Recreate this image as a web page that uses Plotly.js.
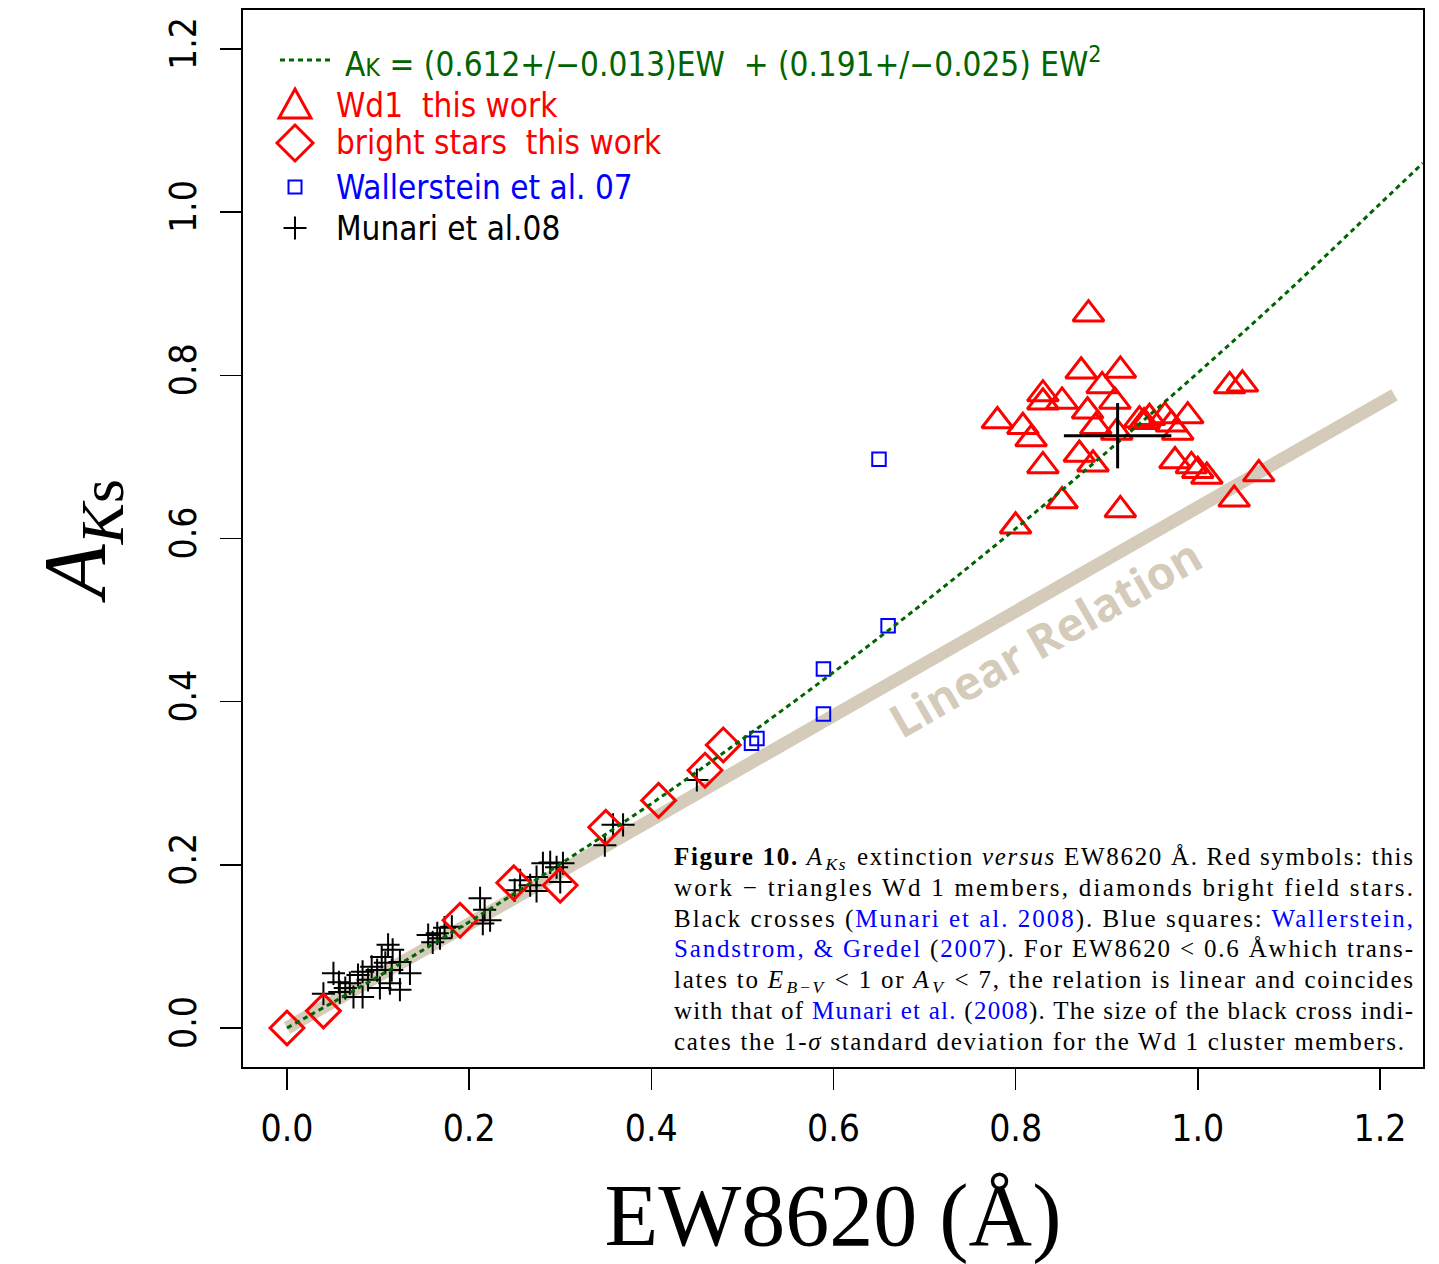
<!DOCTYPE html>
<html>
<head>
<meta charset="utf-8">
<script src="https://cdn.plot.ly/plotly-3.0.1.min.js"></script>
<style>
  html, body { margin: 0; padding: 0; background: #ffffff; }
  #chart { width: 1439px; height: 1264px; }
</style>
</head>
<body>
<div id="chart"></div>
<script>
// ---- Data ----
// Wd 1 members (this work) - red triangles
const wd1X = [0.880, 0.872, 0.915, 0.830, 0.830, 0.851, 0.895, 0.909, 0.879, 0.780, 0.808, 0.817, 0.888, 0.911, 0.936, 0.941, 0.947, 0.964, 0.971, 0.989, 0.978, 0.830, 0.870, 0.885, 0.975, 0.993, 1.000, 1.010, 1.035, 1.049, 1.067, 1.040, 0.851, 0.915, 0.800];
const wd1Y = [0.875, 0.805, 0.806, 0.777, 0.767, 0.768, 0.787, 0.768, 0.756, 0.744, 0.737, 0.722, 0.737, 0.730, 0.745, 0.743, 0.748, 0.750, 0.740, 0.750, 0.730, 0.689, 0.703, 0.691, 0.695, 0.689, 0.683, 0.676, 0.787, 0.789, 0.679, 0.648, 0.646, 0.635, 0.615];

// Bright field stars (this work) - red diamonds
const brightX = [0.000, 0.040, 0.190, 0.249, 0.300, 0.350, 0.408, 0.459, 0.479];
const brightY = [0.000, 0.021, 0.132, 0.178, 0.175, 0.246, 0.279, 0.316, 0.347];

// Wallerstein et al. 07 - blue squares
const wallX = [0.650, 0.660, 0.589, 0.589, 0.510, 0.516];
const wallY = [0.697, 0.493, 0.440, 0.385, 0.349, 0.355];

// Munari et al. 08 - black crosses
const munX = [0.040, 0.051, 0.057, 0.058, 0.064, 0.069, 0.073, 0.078, 0.083, 0.083, 0.089, 0.093, 0.099, 0.102, 0.104, 0.111, 0.108, 0.116, 0.115, 0.124, 0.135, 0.113, 0.124, 0.155, 0.160, 0.168, 0.181, 0.165, 0.173, 0.212, 0.217, 0.223, 0.215, 0.250, 0.256, 0.267, 0.274, 0.281, 0.289, 0.296, 0.300, 0.274, 0.303, 0.349, 0.358, 0.369, 0.450];
const munY = [0.042, 0.067, 0.056, 0.044, 0.049, 0.055, 0.038, 0.065, 0.038, 0.069, 0.059, 0.075, 0.071, 0.049, 0.087, 0.102, 0.080, 0.096, 0.071, 0.081, 0.067, 0.055, 0.047, 0.114, 0.105, 0.110, 0.124, 0.116, 0.123, 0.159, 0.145, 0.132, 0.128, 0.169, 0.181, 0.175, 0.185, 0.202, 0.203, 0.197, 0.179, 0.168, 0.202, 0.224, 0.249, 0.249, 0.304];

// Mean and 1-sigma of Wd 1 members (big black cross)
const meanX = [0.912];
const meanY = [0.726];
const sdX = [0.059];
const sdY = [0.040];

// Quadratic fit curve
const fitX = [0.0, 0.1, 0.2, 0.3, 0.4, 0.5, 0.6, 0.7, 0.8, 0.9, 1.0, 1.1, 1.2, 1.247];
const fitY = [0.000, 0.063, 0.130, 0.201, 0.275, 0.354, 0.436, 0.522, 0.612, 0.706, 0.803, 0.904, 1.010, 1.060];

// Linear relation (thick band)
const linX = [0.0, 1.216];
const linY = [0.0, 0.776];

// Tick values / labels
const tickVals = [0.0, 0.2, 0.4, 0.6, 0.8, 1.0, 1.2];
const tickText = ['0.0', '0.2', '0.4', '0.6', '0.8', '1.0', '1.2'];

// ---- Styles ----
const TAN = '#d5cbba';
const RED = '#ff0000';
const BLUE = '#0000ff';
const GREEN = '#006400';
const NARROW = '"Liberation Sans Narrow", "DejaVu Sans Condensed", "Arial Narrow", sans-serif';
const SERIF = '"Liberation Serif", "DejaVu Serif", serif';

const data = [
  { x: linX, y: linY, type: 'scatter', mode: 'lines', name: 'Linear Relation',
    line: { color: TAN, width: 13 }, hoverinfo: 'skip', showlegend: false },
  { x: munX, y: munY, type: 'scatter', mode: 'markers', name: 'Munari et al.08',
    marker: { symbol: 'cross-thin-open', size: 16.5, color: '#000000', line: { color: '#000000', width: 2 } }, showlegend: false },
  { x: wallX, y: wallY, type: 'scatter', mode: 'markers', name: 'Wallerstein et al. 07',
    marker: { symbol: 'square-open', size: 13.5, color: BLUE, line: { color: BLUE, width: 2 } }, showlegend: false },
  { x: brightX, y: brightY, type: 'scatter', mode: 'markers', name: 'bright stars this work',
    marker: { symbol: 'diamond-open', size: 26, color: RED, line: { color: RED, width: 3 } }, showlegend: false },
  { x: wd1X, y: wd1Y, type: 'scatter', mode: 'markers', name: 'Wd1 this work',
    marker: { symbol: 'triangle-up-open', size: 27, color: RED, line: { color: RED, width: 3 } }, showlegend: false },
  { x: fitX, y: fitY, type: 'scatter', mode: 'lines', name: 'fit',
    line: { color: GREEN, width: 3, dash: '5px,4px', shape: 'spline' }, hoverinfo: 'skip', showlegend: false },
  { x: meanX, y: meanY, type: 'scatter', mode: 'markers', name: 'Wd 1 mean',
    marker: { size: 1, color: '#000000', opacity: 0 },
    error_x: { type: 'data', array: sdX, visible: true, color: '#000000', thickness: 3, width: 0 },
    error_y: { type: 'data', array: sdY, visible: true, color: '#000000', thickness: 3, width: 0 },
    showlegend: false }
];

// paper coordinate helpers for the fixed-size figure (plot area 243..1423 x 10..1067)
const L = 243, R = 1423, T = 10, B = 1067;
const px = v => (v - L) / (R - L);
const py = v => (B - v) / (B - T);

const legendItems = [
  { text: 'A<span style="font-size:25px">K</span> = (0.612+/\u22120.013)EW  + (0.191+/\u22120.025) EW<sup>2</sup>', color: GREEN, x: 343, y: 62 },
  { text: 'Wd1  this work', color: RED, x: 334, y: 105 },
  { text: 'bright stars  this work', color: RED, x: 334, y: 143 },
  { text: 'Wallerstein et al. 07', color: BLUE, x: 334, y: 187 },
  { text: 'Munari et al.08', color: '#000000', x: 334, y: 228 }
];

const blue = s => '<span style="color:#0000ff">' + s + '</span>';
const captionLines = [
  '<b>Figure 10.</b> <i>A</i><sub><i>Ks</i></sub> extinction <i>versus</i> EW8620 \u00c5. Red symbols: this',
  'work \u2212 triangles Wd 1 members, diamonds bright field stars.',
  'Black crosses (' + blue('Munari et al. 2008') + '). Blue squares: ' + blue('Wallerstein,'),
  blue('Sandstrom, &amp; Gredel') + ' (' + blue('2007') + '). For EW8620 &lt; 0.6 \u00c5which trans-',
  'lates to <i>E</i><sub><i>B\u2212V</i></sub> &lt; 1 or <i>A</i><sub><i>V</i></sub> &lt; 7, the relation is linear and coincides',
  'with that of ' + blue('Munari et al.') + ' (' + blue('2008') + '). The size of the black cross indi-',
  'cates the 1-<i>\u03c3</i> standard deviation for the Wd 1 cluster members.'
];
const captionY = [855, 886, 917, 947, 978, 1009, 1040];
const captionWidth = [739, 739, 739, 739, 739, 739, 730];

const annotations = [];
legendItems.forEach(it => {
  annotations.push({
    xref: 'paper', yref: 'paper', x: px(it.x), y: py(it.y), xanchor: 'left', yanchor: 'middle',
    align: 'left', showarrow: false, text: it.text,
    font: { family: NARROW, size: 33, color: it.color }
  });
});
const captionStart = annotations.length;
captionLines.forEach((t, i) => {
  annotations.push({
    xref: 'paper', yref: 'paper', x: px(672), y: py(captionY[i] - 14), xanchor: 'left', yanchor: 'top',
    align: 'left', showarrow: false, text: t,
    font: { family: SERIF, size: 25, color: '#000000' }
  });
});
annotations.push({
  xref: 'x', yref: 'y', x: 0.832, y: 0.479, showarrow: false, text: '<b>Linear Relation</b>',
  textangle: -29.75, font: { family: '"Open Sans", "Noto Sans", sans-serif', size: 46, color: TAN }
});

// legend key symbols (pixel-sized shapes anchored in paper coordinates)
const keyX = px(295);
const shapes = [
  { type: 'line', xref: 'paper', yref: 'paper', x0: px(280), x1: px(333), y0: py(60), y1: py(60),
    line: { color: GREEN, width: 3, dash: '5px,4px' } },
  { type: 'path', xref: 'paper', yref: 'paper', xsizemode: 'pixel', ysizemode: 'pixel',
    xanchor: keyX, yanchor: py(104), path: 'M0,15 L16,-14 L-16,-14 Z',
    line: { color: RED, width: 3 } },
  { type: 'path', xref: 'paper', yref: 'paper', xsizemode: 'pixel', ysizemode: 'pixel',
    xanchor: keyX, yanchor: py(143), path: 'M0,18 L18,0 L0,-18 L-18,0 Z',
    line: { color: RED, width: 3 } },
  { type: 'path', xref: 'paper', yref: 'paper', xsizemode: 'pixel', ysizemode: 'pixel',
    xanchor: keyX, yanchor: py(187), path: 'M-6.5,-6.5 L6.5,-6.5 L6.5,6.5 L-6.5,6.5 Z',
    line: { color: BLUE, width: 2 } },
  { type: 'path', xref: 'paper', yref: 'paper', xsizemode: 'pixel', ysizemode: 'pixel',
    xanchor: keyX, yanchor: py(228), path: 'M-11.5,0 L11.5,0 M0,-11.5 L0,11.5',
    line: { color: '#000000', width: 2 } }
];

const axisCommon = {
  showgrid: false, zeroline: false, showline: true, mirror: true,
  linecolor: '#000000', linewidth: 2,
  ticks: 'outside', ticklen: 21, tickwidth: 1.5, tickcolor: '#000000',
  tickvals: tickVals, ticktext: tickText,
  tickfont: { family: NARROW, size: 37, color: '#000000' }
};

const layout = {
  width: 1439, height: 1264,
  margin: { l: 243, r: 16, t: 10, b: 197 },
  paper_bgcolor: '#ffffff', plot_bgcolor: '#ffffff',
  showlegend: false,
  xaxis: Object.assign({}, axisCommon, {
    range: [-0.0483, 1.2473],
    ticklabelstandoff: 7,
    title: { text: 'EW8620 (\u00c5)', font: { family: SERIF, size: 88, color: '#000000' }, standoff: 36 }
  }),
  yaxis: Object.assign({}, axisCommon, {
    range: [-0.0478, 1.2478],
    tickangle: -90,
    ticklabelstandoff: 9,
    title: { text: '<i>A</i><sub><i>K</i>s</sub>', font: { family: SERIF, size: 88, color: '#000000' }, standoff: 28 }
  }),
  annotations: annotations,
  shapes: shapes
};

Plotly.newPlot('chart', data, layout, { staticPlot: true, displayModeBar: false }).then(gd => {
  captionLines.forEach((t, i) => {
    const el = gd.querySelector('.annotation[data-index="' + (captionStart + i) + '"] text.annotation-text');
    if (el) {
      el.setAttribute('textLength', captionWidth[i]);
      el.setAttribute('lengthAdjust', 'spacing');
    }
  });
});
</script>
</body>
</html>
